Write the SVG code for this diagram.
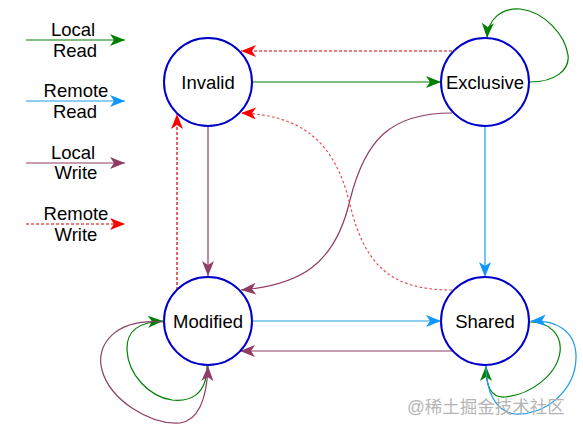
<svg xmlns="http://www.w3.org/2000/svg" width="583" height="432" viewBox="0 0 583 432">
<style>
.node{fill:#fff;stroke:#0000cc;stroke-width:2}
.lbl{font-family:"Liberation Sans",Arial,sans-serif;font-size:18.5px;fill:#000;text-anchor:middle}
.c{fill:none;stroke-width:1.2}
.g{stroke:#007f00}
.b{stroke:#1a9be6}
.p{stroke:#8f3d66}
.r{stroke:#cc0000;stroke-dasharray:3 2}
.rl{stroke:#e84a4a;stroke-dasharray:2.5 2.5}
.wm{font-family:"Liberation Sans","Noto Sans CJK SC",sans-serif;font-size:17.5px;fill:#b5b5b5}
</style>
<defs>
<marker id="ag" markerUnits="userSpaceOnUse" markerWidth="16" markerHeight="12" refX="15" refY="6" orient="auto"><path d="M0,0 L15,6 L0,12 L4,6 Z" fill="#007f00"/></marker>
<marker id="ab" markerUnits="userSpaceOnUse" markerWidth="16" markerHeight="12" refX="15" refY="6" orient="auto"><path d="M0,0 L15,6 L0,12 L4,6 Z" fill="#0f96ff"/></marker>
<marker id="ap" markerUnits="userSpaceOnUse" markerWidth="16" markerHeight="12" refX="15" refY="6" orient="auto"><path d="M0,0 L15,6 L0,12 L4,6 Z" fill="#8f3d66"/></marker>
<marker id="ar" markerUnits="userSpaceOnUse" markerWidth="16" markerHeight="12" refX="15" refY="6" orient="auto"><path d="M0,0 L15,6 L0,12 L4,6 Z" fill="#ff0000"/></marker>
</defs>
<g id="legend">
<path class="c g" d="M26,40 H125" marker-end="url(#ag)"/>
<text class="lbl" x="73" y="36">Local</text><text class="lbl" x="75" y="57">Read</text>
<path class="c b" d="M26,101 H125" marker-end="url(#ab)"/>
<text class="lbl" x="76" y="97">Remote</text><text class="lbl" x="75" y="118">Read</text>
<path class="c p" d="M26,163 H125" marker-end="url(#ap)"/>
<text class="lbl" x="73" y="159">Local</text><text class="lbl" x="76" y="179">Write</text>
<path class="c r" d="M26,224 H125" marker-end="url(#ar)"/>
<text class="lbl" x="76" y="220">Remote</text><text class="lbl" x="76" y="241">Write</text>
</g>
<g id="connectors">
<path class="c g" d="M253,82 H441" marker-end="url(#ag)"/>
<path class="c r" d="M452,51 H241" marker-end="url(#ar)"/>
<path class="c g" d="M530,82 C555,82 570,70 568,55 C565,35 545,12 520,9 C500,8 488,20 487,38" marker-end="url(#ag)"/>
<path class="c p" d="M208,126 V276" marker-end="url(#ap)"/>
<path class="c r" d="M177,290 V114" marker-end="url(#ar)"/>
<path class="c p" d="M452,113 C390,113 365,140 350,200 C335,265 300,285 241,290" marker-end="url(#ap)"/>
<path class="c rl" d="M452,290 C390,290 365,265 350,205 C335,140 300,115 241,113" marker-end="url(#ar)"/>
<path class="c b" d="M485,126 V277" marker-end="url(#ab)"/>
<path class="c b" d="M253,321 H441" marker-end="url(#ab)"/>
<path class="c p" d="M453,351 H240" marker-end="url(#ap)"/>
<path class="c g" d="M207,366 C207,395 190,402 172,400 C150,397 128,375 127,350 C126,330 140,322 163,321" marker-end="url(#ag)"/>
<path class="c p" d="M163,322 C115,318 95,345 102,370 C110,400 150,425 180,423 C200,420 207,395 208,366" marker-end="url(#ap)"/>
<path class="c g" d="M530,322 C550,322 562,335 560,352 C557,375 530,395 505,397 C490,398 486,385 486,366" marker-end="url(#ag)"/>
<path class="c b" d="M486,366 C486,390 495,412 515,414 C545,416 577,390 576,355 C575,330 555,320 531,321" marker-end="url(#ab)"/>
</g>
<g id="invalid"><circle class="node" cx="208" cy="82" r="44"/><text class="lbl" x="208" y="88.5">Invalid</text></g>
<g id="exclusive"><circle class="node" cx="485" cy="82" r="44"/><text class="lbl" x="485" y="88.5">Exclusive</text></g>
<g id="modified"><circle class="node" cx="208" cy="321" r="44"/><text class="lbl" x="208" y="327.5">Modified</text></g>
<g id="shared"><circle class="node" cx="485" cy="321" r="44"/><text class="lbl" x="485" y="327.5">Shared</text></g>
<text class="wm" x="407" y="413">@稀土掘金技术社区</text>
</svg>
